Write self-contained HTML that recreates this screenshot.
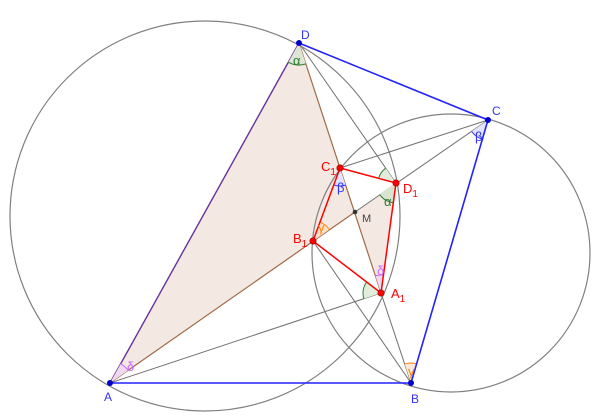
<!DOCTYPE html>
<html><head><meta charset="utf-8"><style>
html,body{margin:0;padding:0;background:#fff;}
svg{display:block;}
text{font-family:"Liberation Sans",sans-serif;}
</style></head><body>
<svg width="600" height="419" viewBox="0 0 600 419" xmlns="http://www.w3.org/2000/svg">
<polygon points="110,383 299,43 355,212" fill="#f3e8e2"/>
<polygon points="355,212 396,183 381,293" fill="#f3e8e2"/>
<circle cx="205" cy="216" r="195" fill="none" stroke="#808080" stroke-width="1.2"/>
<circle cx="451" cy="253" r="139" fill="none" stroke="#808080" stroke-width="1.2"/>
<g stroke="#707070" stroke-width="1" fill="none">
<line x1="355" y1="212" x2="488" y2="120"/>
<line x1="340" y1="168" x2="488" y2="120"/>
<line x1="299" y1="43" x2="396" y2="183"/>
<line x1="110" y1="383" x2="381" y2="293"/>
<line x1="313" y1="241" x2="411" y2="383"/>
<line x1="381" y1="293" x2="411" y2="383"/>
</g>
<g stroke="#a06a48" stroke-width="1.2" fill="none">
<line x1="110" y1="383" x2="355" y2="212"/>
<line x1="299" y1="43" x2="381" y2="293"/>
</g>
<line x1="110" y1="383" x2="299" y2="43" stroke="#663399" stroke-width="1.4"/>
<g stroke-width="1">
<path d="M299,43 L288.3,62.2 A22,22 0 0,0 305.9,63.9 Z" fill="#dde6d4" stroke="none"/>
<path d="M288.3,62.2 A22,22 0 0,0 305.9,63.9" fill="none" stroke="#2e7d32"/>
<path d="M110,383 L120.7,363.8 A22,22 0 0,1 128.1,370.4 Z" fill="#efd9ef" stroke="none"/>
<path d="M120.7,363.8 A22,22 0 0,1 128.1,370.4" fill="none" stroke="#cc66ff"/>
<path d="M488,120 L471.6,131.4 A20,20 0 0,0 482.4,139.2 Z" fill="#e0e4ff" stroke="none"/>
<path d="M471.6,131.4 A20,20 0 0,0 482.4,139.2" fill="none" stroke="#3333ff"/>
<path d="M411,383 L404.7,364 A20,20 0 0,1 416.6,363.8 Z" fill="#fbe8d6" stroke="none"/>
<path d="M404.7,364 A20,20 0 0,1 416.6,363.8" fill="none" stroke="#ff8800"/>
<path d="M340,168 L333.8,184.9 A18,18 0 0,0 345.6,185.1 Z" fill="#e0e4ff" stroke="none"/>
<path d="M333.8,184.9 A18,18 0 0,0 345.6,185.1" fill="none" stroke="#3333ff"/>
<path d="M313,241 L319.9,222.2 A20,20 0 0,1 329.4,229.6 Z" fill="#fbe0cc" stroke="none"/>
<path d="M319.9,222.2 A20,20 0 0,1 329.4,229.6" fill="none" stroke="#ff8800"/>
<path d="M381,293 L375.4,275.9 A18,18 0 0,1 383.4,275.2 Z" fill="#efd9ef" stroke="none"/>
<path d="M375.4,275.9 A18,18 0 0,1 383.4,275.2" fill="none" stroke="#cc66ff"/>
<path d="M396,183 L379.6,194.4 A20,20 0 0,0 393.3,202.8 Z" fill="#d8e4d0" stroke="none"/>
<path d="M379.6,194.4 A20,20 0 0,0 393.3,202.8" fill="none" stroke="#2e7d32"/>
<path d="M396,183 L378.6,178.3 A18,18 0 0,1 385.7,168.2 Z" fill="#e2ecdc" stroke="none"/>
<path d="M378.6,178.3 A18,18 0 0,1 385.7,168.2" fill="none" stroke="#2e7d32"/>
<path d="M381,293 L366.7,282.1 A18,18 0 0,0 363.9,298.7 Z" fill="#e2ecdc" stroke="none"/>
<path d="M366.7,282.1 A18,18 0 0,0 363.9,298.7" fill="none" stroke="#2e7d32"/>
</g>
<polygon points="340,168 396,183 381,293 313,241" fill="none" stroke="#ff0000" stroke-width="1.5"/>
<g stroke="#2222ff" stroke-width="1.6">
<line x1="110" y1="383" x2="411" y2="383"/>
<line x1="411" y1="383" x2="488" y2="120"/>
<line x1="488" y1="120" x2="299" y2="43"/>
</g>
<g fill="#0000cc">
<circle cx="110" cy="383" r="3"/><circle cx="411" cy="383" r="3"/>
<circle cx="488" cy="120" r="3"/><circle cx="299" cy="43" r="3"/>
</g>
<g fill="#ff0000" stroke="#990000" stroke-width="0.6">
<circle cx="340" cy="168" r="3.2"/><circle cx="396" cy="183" r="3.2"/>
<circle cx="381" cy="293" r="3.2"/><circle cx="313" cy="241" r="3.2"/>
</g>
<circle cx="355" cy="212" r="2.3" fill="#333"/>
<g font-size="12" fill="#3333ff">
<text x="104" y="401">A</text><text x="411" y="403">B</text>
<text x="492" y="115">C</text><text x="301" y="39">D</text>
</g>
<g font-size="13" fill="#ff0000">
<text x="321" y="171">C<tspan font-size="10" dy="4">1</tspan></text>
<text x="403" y="193">D<tspan font-size="10" dy="4">1</tspan></text>
<text x="293" y="243">B<tspan font-size="10" dy="4">1</tspan></text>
<text x="391" y="298">A<tspan font-size="10" dy="4">1</tspan></text>
</g>
<text x="362" y="222" font-size="11" fill="#444">M</text>
<g font-size="13">
<text x="293" y="65" fill="#2e7d32">α</text>
<text x="384" y="206" fill="#2e7d32">α</text>
<text x="475" y="141" fill="#3333ff">β</text>
<text x="337" y="192" fill="#3333ff">β</text>
<text x="318" y="232" fill="#ff8800">γ</text>
<text x="408" y="376" fill="#ff8800">γ</text>
<text x="127" y="371" fill="#cc66ff">δ</text>
<text x="377" y="275" fill="#cc66ff">δ</text>
</g>
</svg>
</body></html>
